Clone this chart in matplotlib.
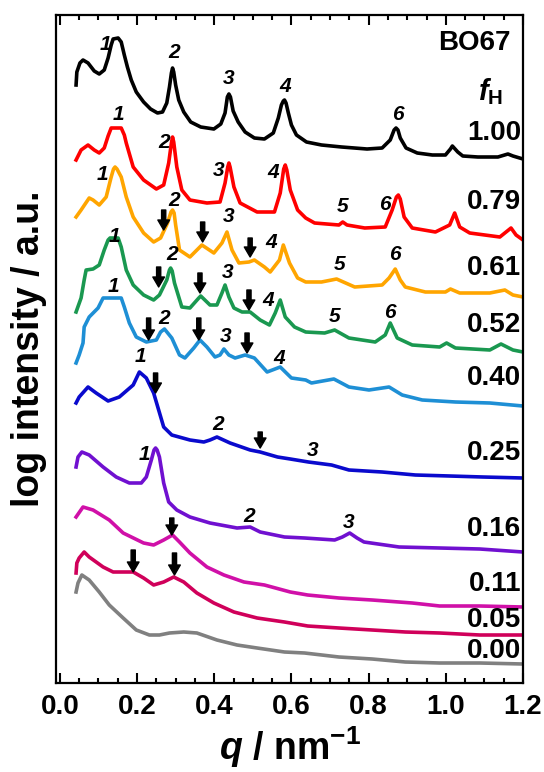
import numpy as np
import matplotlib
matplotlib.use("Agg")
from matplotlib import pyplot as plt
from matplotlib.ticker import MultipleLocator

plt.rcParams['font.family'] = ['Liberation Sans', 'DejaVu Sans']
plt.rcParams['font.weight'] = 'bold'
plt.rcParams['mathtext.fontset'] = 'custom'
plt.rcParams['mathtext.rm'] = 'Liberation Sans:bold'
plt.rcParams['mathtext.it'] = 'Liberation Sans:bold:italic'
plt.rcParams['mathtext.bf'] = 'Liberation Sans:bold'

# curves: q (nm^-1) and log intensity (arbitrary, shifted)
q_100 = [0.042, 0.044, 0.052, 0.060, 0.073, 0.089, 0.102, 0.115, 0.125, 0.133, 0.138, 0.151, 0.159, 0.167,
         0.175, 0.185, 0.198, 0.217, 0.235, 0.253, 0.266, 0.277, 0.284, 0.289, 0.292, 0.295, 0.300, 0.308,
         0.321, 0.339, 0.365, 0.399, 0.417, 0.428, 0.434, 0.438, 0.442, 0.449, 0.462, 0.480, 0.504, 0.530,
         0.553, 0.566, 0.574, 0.579, 0.582, 0.586, 0.592, 0.600, 0.613, 0.639, 0.678, 0.730, 0.796, 0.835,
         0.856, 0.866, 0.871, 0.876, 0.882, 0.897, 0.926, 0.965, 0.999, 1.012, 1.017, 1.031, 1.044, 1.083,
         1.135, 1.161, 1.174, 1.200]
i_100 = [598, 611, 620, 623, 620, 612, 609, 613, 625, 638, 644, 645, 641, 628,
         616, 603, 591, 581, 574, 570, 571, 580, 596, 610, 615, 611, 598, 583,
         571, 561, 556, 554, 559, 570, 586, 589, 586, 572, 561, 551, 545, 544,
         550, 565, 578, 582, 583, 580, 570, 558, 548, 541, 538, 536, 534, 535,
         543, 553, 555, 553, 545, 535, 530, 528, 528, 534, 537, 531, 527, 526,
         526, 529, 527, 524]

q_079 = [0.042, 0.055, 0.073, 0.089, 0.102, 0.115, 0.125, 0.133, 0.159, 0.167, 0.172, 0.190, 0.217, 0.250,
         0.269, 0.282, 0.289, 0.292, 0.295, 0.303, 0.316, 0.337, 0.381, 0.415, 0.428, 0.435, 0.438, 0.441,
         0.451, 0.467, 0.511, 0.556, 0.571, 0.580, 0.584, 0.588, 0.597, 0.616, 0.637, 0.660, 0.723, 0.733,
         0.744, 0.790, 0.843, 0.861, 0.872, 0.877, 0.882, 0.892, 0.913, 0.973, 1.010, 1.023, 1.036, 1.062,
         1.140, 1.169, 1.182, 1.200]
i_079 = [523, 533, 538, 533, 530, 535, 547, 555, 555, 548, 540, 516, 503, 494,
         498, 520, 540, 546, 541, 516, 493, 483, 480, 481, 500, 516, 520, 516,
         496, 480, 471, 471, 490, 514, 518, 513, 493, 473, 465, 460, 458, 461,
         458, 455, 456, 473, 486, 488, 484, 466, 455, 451, 458, 470, 456, 450,
         446, 455, 448, 443]

q_061 = [0.042, 0.055, 0.076, 0.086, 0.102, 0.120, 0.133, 0.139, 0.143, 0.148, 0.159, 0.172, 0.190, 0.217,
         0.243, 0.261, 0.279, 0.288, 0.292, 0.296, 0.300, 0.310, 0.337, 0.368, 0.399, 0.420, 0.433, 0.446,
         0.464, 0.490, 0.504, 0.530, 0.545, 0.569, 0.579, 0.595, 0.616, 0.637, 0.678, 0.717, 0.764, 0.835,
         0.853, 0.869, 0.882, 0.895, 0.947, 0.999, 1.012, 1.036, 1.114, 1.153, 1.174, 1.200]
i_061 = [466, 473, 485, 483, 478, 486, 506, 514, 516, 514, 506, 486, 466, 450,
         441, 445, 460, 471, 473, 470, 458, 433, 426, 438, 430, 440, 451, 433,
         420, 421, 423, 416, 411, 423, 438, 420, 405, 401, 401, 404, 396, 398,
         405, 414, 403, 396, 391, 391, 394, 390, 390, 393, 388, 386]

q_052 = [0.042, 0.055, 0.063, 0.068, 0.086, 0.102, 0.115, 0.125, 0.130, 0.151, 0.159, 0.172, 0.190, 0.217,
         0.243, 0.258, 0.277, 0.284, 0.287, 0.291, 0.297, 0.316, 0.337, 0.360, 0.365, 0.389, 0.407, 0.420,
         0.428, 0.438, 0.451, 0.472, 0.493, 0.519, 0.543, 0.558, 0.571, 0.584, 0.608, 0.637, 0.686, 0.712,
         0.749, 0.817, 0.843, 0.856, 0.874, 0.913, 0.984, 1.002, 1.025, 1.114, 1.143, 1.174, 1.200]
i_052 = [371, 385, 403, 413, 414, 418, 433, 443, 445, 445, 436, 413, 398, 388,
         383, 388, 403, 413, 415, 412, 400, 376, 375, 385, 387, 378, 378, 390,
         398, 386, 375, 371, 371, 363, 358, 370, 383, 366, 356, 351, 350, 353,
         345, 341, 348, 360, 345, 338, 336, 340, 335, 333, 339, 333, 331]

q_040 = [0.042, 0.050, 0.060, 0.063, 0.076, 0.099, 0.112, 0.159, 0.167, 0.180, 0.198, 0.224, 0.250, 0.261,
         0.271, 0.290, 0.310, 0.324, 0.347, 0.363, 0.381, 0.402, 0.415, 0.425, 0.438, 0.454, 0.480, 0.504,
         0.537, 0.571, 0.600, 0.637, 0.652, 0.710, 0.749, 0.801, 0.853, 0.887, 0.939, 1.025, 1.114, 1.200]
i_040 = [320, 328, 340, 356, 366, 375, 385, 385, 376, 360, 346, 341, 343, 351,
         354, 345, 328, 325, 335, 343, 336, 326, 328, 334, 328, 325, 328, 325,
         311, 316, 305, 303, 300, 304, 296, 293, 296, 288, 283, 281, 280, 277]

q_025 = [0.042, 0.050, 0.073, 0.094, 0.125, 0.154, 0.190, 0.206, 0.224, 0.243, 0.256, 0.269, 0.290, 0.337,
         0.373, 0.389, 0.407, 0.441, 0.493, 0.519, 0.564, 0.597, 0.644, 0.704, 0.749, 0.835, 0.921, 1.010,
         1.096, 1.200]
i_025 = [280, 286, 296, 290, 282, 286, 298, 311, 305, 290, 273, 256, 248, 243,
         241, 243, 246, 240, 233, 231, 226, 224, 221, 218, 213, 211, 208, 207,
         206, 205]

q_016 = [0.042, 0.047, 0.057, 0.076, 0.112, 0.146, 0.180, 0.211, 0.224, 0.237, 0.244, 0.248, 0.252, 0.258,
         0.269, 0.282, 0.303, 0.337, 0.389, 0.459, 0.493, 0.519, 0.582, 0.634, 0.712, 0.732, 0.751, 0.770,
         0.788, 0.879, 0.984, 1.088, 1.200]
i_016 = [216, 226, 231, 228, 216, 206, 200, 200, 206, 223, 233, 235, 233, 226,
         200, 181, 173, 166, 160, 155, 156, 151, 146, 145, 143, 146, 150, 145,
         141, 136, 135, 134, 131]

q_011 = [0.042, 0.060, 0.086, 0.128, 0.164, 0.217, 0.243, 0.269, 0.292, 0.310, 0.337, 0.381, 0.425, 0.477,
         0.530, 0.597, 0.642, 0.723, 0.809, 0.913, 0.984, 1.088, 1.200]
i_011 = [166, 176, 173, 163, 150, 140, 138, 143, 148, 141, 130, 116, 108, 101,
         98, 91, 88, 85, 83, 80, 77, 77, 76]

q_005 = [0.042, 0.044, 0.050, 0.063, 0.076, 0.112, 0.138, 0.190, 0.217, 0.243, 0.269, 0.295, 0.321, 0.355,
         0.399, 0.451, 0.511, 0.582, 0.642, 0.723, 0.809, 0.895, 0.984, 1.088, 1.200]
i_005 = [110, 120, 125, 131, 126, 116, 111, 111, 105, 98, 101, 106, 101, 90,
         80, 71, 65, 61, 57, 55, 53, 51, 50, 48, 48]

q_000 = [0.042, 0.047, 0.057, 0.076, 0.102, 0.128, 0.164, 0.198, 0.232, 0.258, 0.284, 0.321, 0.355, 0.407,
         0.459, 0.511, 0.582, 0.634, 0.723, 0.809, 0.895, 0.984, 1.088, 1.200]
i_000 = [91, 100, 108, 103, 91, 78, 65, 53, 48, 48, 50, 51, 50, 43,
         38, 35, 31, 30, 26, 24, 21, 20, 20, 19]

fh_labels = ['1.00', '0.79', '0.61', '0.52', '0.40', '0.25', '0.16', '0.11', '0.05', '0.00']
fh_label_y = [550, 481, 415, 358, 305, 230, 154, 99, 63, 32]

# peak index labels (text, q, level)
peak_text = ['1', '2', '3', '4', '6',
             '1', '2', '3', '4', '5', '6',
             '1', '2', '3', '4', '5', '6',
             '1', '2', '3', '4', '5', '6',
             '1', '2', '3', '4',
             '1', '2', '3',
             '1', '2', '3']
peak_q = [0.117, 0.295, 0.438, 0.584, 0.877,
          0.151, 0.269, 0.412, 0.553, 0.733, 0.843,
          0.110, 0.295, 0.438, 0.548, 0.725, 0.869,
          0.141, 0.290, 0.436, 0.540, 0.712, 0.856,
          0.138, 0.271, 0.430, 0.569,
          0.209, 0.410, 0.655,
          0.219, 0.490, 0.749]
peak_y = [639, 630, 604, 597, 568,
          568, 541, 513, 510, 476, 479,
          509, 482, 467, 440, 418, 428,
          446, 428, 411, 383, 366, 371,
          396, 365, 346, 325,
          326, 259, 233,
          229, 166, 161]

# arrows (q, top, tip)
arrow_q = [0.269, 0.370, 0.493, 0.256, 0.363, 0.490, 0.230, 0.360, 0.485, 0.248, 0.519, 0.290, 0.190, 0.297]
arrow_top = [473, 461, 445, 416, 410, 393, 365, 365, 350, 310, 251, 165, 133, 130]
arrow_tip = [453, 441, 426, 396, 390, 373, 343, 343, 330, 290, 235, 148, 111, 108]

curves = [(q_100, i_100, 'black'), (q_079, i_079, '#ff0000'), (q_061, i_061, '#ffa500'),
          (q_052, i_052, '#1a9850'), (q_040, i_040, '#1e8fd5'), (q_025, i_025, '#0a0acd'),
          (q_016, i_016, '#7010d0'), (q_011, i_011, '#d010a8'), (q_005, i_005, '#d0005a'),
          (q_000, i_000, '#808080')]

fig = plt.figure(figsize=(5.44, 7.72), dpi=100)
ax = fig.add_axes([56/544, 89/772, 467/544, 668/772])

for q, inten, c in curves:
    ax.plot(q, inten, color=c, lw=2.6, solid_joinstyle='round')

for t, x, y in zip(peak_text, peak_q, peak_y):
    ax.text(x, y, t, fontsize=15, fontstyle='italic', fontweight='bold', ha='center', va='center')

for x, y0, y1 in zip(arrow_q, arrow_top, arrow_tip):
    ax.annotate('', xy=(x, y1), xytext=(x, y0),
                arrowprops=dict(arrowstyle='simple,head_length=0.6,head_width=0.7,tail_width=0.25',
                                fc='black', ec='black', shrinkA=0, shrinkB=0, mutation_scale=12))

for t, y in zip(fh_labels, fh_label_y):
    ax.text(1.195, y, t, fontsize=20, fontweight='bold', ha='right', va='center')

ax.text(1.169, 640, 'BO67', fontsize=20, fontweight='bold', ha='right', va='center')
ax.text(1.115, 583, r'$f_\mathrm{H}$', fontsize=21, ha='center', va='baseline')

ax.set_xlim(-0.01, 1.2)
ax.set_ylim(0, 668)
ax.set_yticks([])
ax.xaxis.set_major_locator(MultipleLocator(0.2))
ax.xaxis.set_minor_locator(MultipleLocator(0.05))
ax.set_xticks([0.0, 0.2, 0.4, 0.6, 0.8, 1.0, 1.2])
ax.set_xticklabels(['0.0', '0.2', '0.4', '0.6', '0.8', '1.0', '1.2'])
ax.tick_params(axis='x', which='both', direction='in', top=True, bottom=True, width=1.5, labelsize=20, pad=8)
ax.tick_params(axis='x', which='major', length=7)
ax.tick_params(axis='x', which='minor', length=3.5)
for s in ax.spines.values():
    s.set_linewidth(1.6)

ax.set_xlabel(r'$q$ / nm$^{-1}$', fontsize=27, fontweight='bold')
ax.set_ylabel('log intensity / a.u.', fontsize=27, fontweight='bold')
ax.xaxis.set_label_coords(0.5, -0.062)
ax.yaxis.set_label_coords(-0.02, 0.5)

fig.savefig('out.png', dpi=100)
